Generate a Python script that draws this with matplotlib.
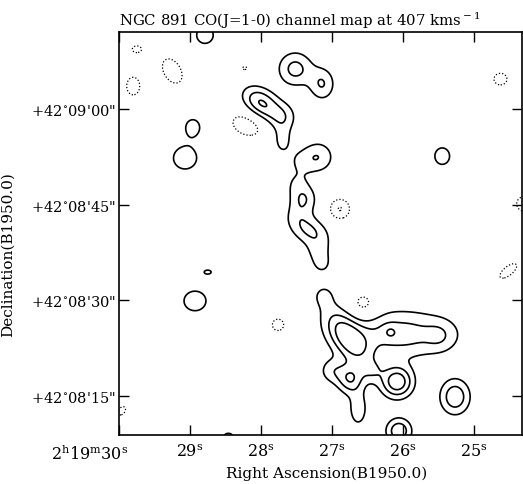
import numpy as np
import matplotlib.pyplot as plt
from matplotlib.transforms import ScaledTranslation

plt.rcParams['font.family'] = 'DejaVu Serif'
plt.rcParams['mathtext.fontset'] = 'dejavuserif'

# map window: RA seconds (2h19m..) and Dec arcsec above +42d08'00"
ra_left, ra_right = 30.0, 24.324
dec_bottom, dec_top = 8.8, 72.1

# emission components:
# RA [s], Dec [arcsec], peak [contour units], widths [arcsec], PA [deg]
blob_ra  = [28.79, 29.75, 29.25, 29.80, 28.23,            # NW corner
            27.52, 27.14,                                 # top clump
            28.00, 27.704, 27.70, 28.20,                  # second clump + hole
            28.96, 29.07,                                 # west knots
            27.197, 27.451, 27.493, 27.394, 27.479, 27.31, 27.197, 27.141,  # ridge
            26.89, 25.45, 24.63, 24.30, 24.52,            # east side
            28.75, 28.93, 27.76, 26.56,                   # south-west
            26.775, 26.042, 25.479, 26.183, 26.746, 26.085, 27.0, 26.634,
            26.437, 27.113,                               # southern complex
            25.27, 26.06, 29.96, 28.46]
blob_dec = [71.6, 69.4, 65.97, 63.6, 66.4,
            66.3, 63.93,
            60.94, 58.74, 55.1, 57.49,
            57.17, 52.3,
            52.46, 51.84, 48.23, 45.87, 43.52, 40.85, 37.71, 35.5,
            44.3, 52.6, 64.7, 45.1, 34.57,
            34.4, 29.86, 26.1, 29.2,
            24.05, 24.675, 24.36, 24.99, 17.61, 17.14, 18.87, 12.9,
            18.87, 30.8,
            14.8, 9.45, 12.6, 8.7]
blob_amp = [1.4, -1.2, -1.4, -1.3, -1.1,
            2.35, 2.0,
            3.1, 1.6, 1.35, -1.5,
            1.4, 1.5,
            1.9, 0.85, 1.0, 1.6, 1.0, 2.05, 1.1, 1.0,
            -2.05, 1.4, -1.3, -1.5, -1.3,
            1.1, 1.5, -1.3, -1.5,
            3.3, 2.5, 0.9, 0.8, 2.8, 3.8, 1.5, 1.6,
            1.2, 1.0,
            2.8, 2.8, -1.2, 1.2]
blob_sa  = [1.57, 1.1, 2.5, 1.4, 0.95,
            1.9, 1.4,
            2.2, 1.6, 1.1, 2.5,
            1.25, 2.0,
            1.73, 1.41, 1.57, 1.41, 1.57, 2.2, 1.41, 1.26,
            1.25, 1.4, 1.4, 1.25, 2.2,
            1.1, 1.9, 1.25, 1.7,
            3.6, 5.97, 1.57, 0.78, 1.41, 1.73, 1.41, 1.1,
            1.26, 1.41,
            1.65, 1.41, 1.2, 1.0]
blob_sb  = [1.57, 0.8, 1.6, 1.9, 0.6,
            1.9, 1.8,
            1.5, 1.6, 1.7, 1.7,
            1.4, 1.9,
            1.73, 1.41, 1.57, 1.41, 1.57, 1.5, 1.41, 1.26,
            1.25, 1.57, 1.25, 1.25, 0.95,
            0.63, 1.7, 1.25, 1.7,
            1.73, 2.6, 1.57, 0.78, 1.6, 1.73, 1.41, 2.1,
            1.26, 1.41,
            1.96, 1.41, 0.8, 0.6]
blob_pa  = [0, 0, -60, 0, 0,
            0, 0,
            -36, 0, 0, -20,
            0, 0,
            0, 0, 0, 0, 0, -25, 0, 0,
            0, 0, 0, 0, 39,
            0, 0, 0, 0,
            -54, 0, 0, 0, 0, 0, 0, 0,
            0, 0,
            0, 0, 55, 0]

pos_levels = [1, 2, 3]
neg_levels = [-2, -1]

xticks = [30, 29, 28, 27, 26, 25]
xlabels = [r'2$^{\rm h}$19$^{\rm m}$30$^{\rm s}$', r'29$^{\rm s}$', r'28$^{\rm s}$',
           r'27$^{\rm s}$', r'26$^{\rm s}$', r'25$^{\rm s}$']
yticks = [15, 30, 45, 60]
ylabels = ['+42$^{\\circ}$08\'15"', '+42$^{\\circ}$08\'30"',
           '+42$^{\\circ}$08\'45"', '+42$^{\\circ}$09\'00"']

ra = np.linspace(ra_right - 0.2, ra_left + 0.2, 700)
dec = np.linspace(dec_bottom - 2, dec_top + 2, 700)
RA, DEC = np.meshgrid(ra, dec)
field = np.zeros_like(RA)
for r0, d0, a, sa, sb, pa in zip(blob_ra, blob_dec, blob_amp, blob_sa, blob_sb, blob_pa):
    u = (r0 - RA) * 11.12
    v = DEC - d0
    t = np.radians(pa)
    p = u * np.cos(t) + v * np.sin(t)
    q = -u * np.sin(t) + v * np.cos(t)
    field += a * np.exp(-0.5 * (p / sa) ** 2 - 0.5 * (q / sb) ** 2)

fig = plt.figure(figsize=(5.23, 4.85), dpi=100)
ax = fig.add_axes([0.2275, 0.101, 0.771, 0.831])

ax.contour(RA, DEC, field, levels=pos_levels, colors='black', linewidths=1.2,
           linestyles='solid')
ax.contour(RA, DEC, field, levels=neg_levels, colors='black', linewidths=0.9,
           linestyles=[(0, (1, 1.6))])

ax.set_xlim(ra_left, ra_right)
ax.set_ylim(dec_bottom, dec_top)

ax.set_xticks(xticks)
ax.set_xticklabels(xlabels, fontsize=11.5)
ax.set_yticks(yticks)
ax.set_yticklabels(ylabels, fontsize=10.5)
ax.tick_params(direction='in', length=7, width=1, top=True, right=True)
ax.tick_params(axis='y', pad=2)
ax.tick_params(axis='x', pad=6)
first = ax.get_xticklabels()[0]
first.set_ha('right')
first.set_transform(first.get_transform() + ScaledTranslation(9 / 100, 0, fig.dpi_scale_trans))

for s in ax.spines.values():
    s.set_linewidth(1.2)

ax.set_title(r'NGC 891 CO(J=1-0) channel map at 407 kms$^{\rm -1}$', loc='left',
             fontsize=10.7, pad=5)
ax.set_xlabel('Right Ascension(B1950.0)', fontsize=11)
ax.set_ylabel('Declination(B1950.0)', fontsize=11)
ax.xaxis.set_label_coords(0.514, -0.077)
ax.yaxis.set_label_coords(-0.258, 0.45)

fig.savefig('out.png', dpi=100)
